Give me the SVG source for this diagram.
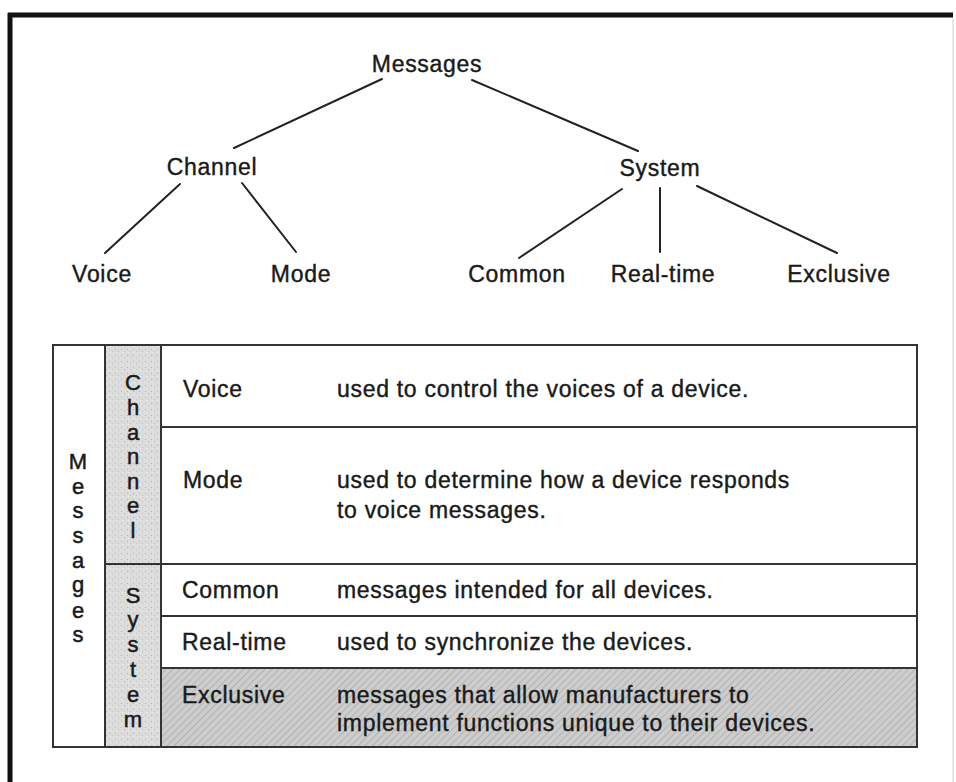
<svg xmlns="http://www.w3.org/2000/svg" width="956" height="782" viewBox="0 0 956 782">
<style>
  .t { font-family: "Liberation Sans", Arial, Helvetica, sans-serif; font-size: 23px; fill: #1a1a1a; stroke: #1a1a1a; stroke-width: 0.4px; letter-spacing: 0.7px; }
  .m { text-anchor: middle; }
  .v { font-family: "Liberation Sans", Arial, Helvetica, sans-serif; font-size: 22px; fill: #1a1a1a; stroke: #1a1a1a; stroke-width: 0.5px; text-anchor: middle; }
  .edge { stroke: #222; stroke-width: 2; fill: none; stroke-linecap: round; }
  .grid { stroke: #333; stroke-width: 2; fill: none; }
</style>
<defs>
  <pattern id="stip" width="6" height="6" patternUnits="userSpaceOnUse">
    <rect width="6" height="6" fill="#dcdcdc"/>
    <rect x="1" y="1" width="1" height="1" fill="#b5b5b5"/>
    <rect x="4" y="3" width="1" height="1" fill="#c0c0c0"/>
    <rect x="2" y="4" width="1" height="1" fill="#f0f0f0"/>
  </pattern>
  <pattern id="hatch" width="5" height="5" patternUnits="userSpaceOnUse" patternTransform="rotate(45)">
    <rect width="5" height="5" fill="#cdcdcd"/>
    <line x1="0" y1="0" x2="0" y2="5" stroke="#a9a9a9" stroke-width="1.5"/>
  </pattern>
</defs>
<rect width="956" height="782" fill="#ffffff"/>
<!-- outer frame -->
<g id="frame">
  <line x1="8" y1="15" x2="953" y2="15" stroke="#111" stroke-width="5"/>
  <line x1="10" y1="13" x2="10" y2="782" stroke="#111" stroke-width="5"/>
  <line x1="953" y1="18" x2="953" y2="782" stroke="#d0d0d0" stroke-width="1"/>
</g>
<!-- connectors -->
<g id="connectors">
  <line class="edge" x1="382" y1="79" x2="234" y2="148"/>
  <line class="edge" x1="472" y1="80" x2="638" y2="151"/>
  <line class="edge" x1="180" y1="184" x2="105" y2="253"/>
  <line class="edge" x1="242" y1="183" x2="296" y2="252"/>
  <line class="edge" x1="622" y1="189" x2="519" y2="258"/>
  <line class="edge" x1="660" y1="188" x2="660" y2="252"/>
  <line class="edge" x1="697" y1="186" x2="837" y2="253"/>
</g>
<!-- tree nodes -->
<g id="n-messages"><text class="t m" x="427" y="72">Messages</text></g>
<g id="n-channel"><text class="t m" x="212" y="175">Channel</text></g>
<g id="n-system"><text class="t m" x="660" y="176">System</text></g>
<g id="n-voice"><text class="t m" x="102" y="282">Voice</text></g>
<g id="n-mode"><text class="t m" x="301" y="282">Mode</text></g>
<g id="n-common"><text class="t m" x="517" y="282">Common</text></g>
<g id="n-realtime"><text class="t m" x="663" y="282">Real-time</text></g>
<g id="n-exclusive"><text class="t m" x="839" y="282">Exclusive</text></g>
<!-- table -->
<g id="table">
  <rect x="105" y="345" width="56" height="402" fill="url(#stip)"/>
  <rect x="161" y="668" width="756" height="79" fill="url(#hatch)"/>
  <rect class="grid" x="53" y="345" width="864" height="402"/>
  <line class="grid" x1="105" y1="345" x2="105" y2="747"/>
  <line class="grid" x1="161" y1="345" x2="161" y2="747"/>
  <line class="grid" x1="161" y1="427" x2="917" y2="427"/>
  <line class="grid" x1="105" y1="564" x2="917" y2="564"/>
  <line class="grid" x1="161" y1="616" x2="917" y2="616"/>
  <line class="grid" x1="161" y1="668" x2="917" y2="668"/>
  <g id="col-messages">
    <text class="v" x="78" y="469">M</text>
    <text class="v" x="78" y="494">e</text>
    <text class="v" x="78" y="518">s</text>
    <text class="v" x="78" y="543">s</text>
    <text class="v" x="78" y="568">a</text>
    <text class="v" x="78" y="592">g</text>
    <text class="v" x="78" y="618">e</text>
    <text class="v" x="78" y="642">s</text>
  </g>
  <g id="col-channel">
    <text class="v" x="133" y="390">C</text>
    <text class="v" x="133" y="415">h</text>
    <text class="v" x="133" y="440">a</text>
    <text class="v" x="133" y="464">n</text>
    <text class="v" x="133" y="489">n</text>
    <text class="v" x="133" y="513">e</text>
    <text class="v" x="133" y="538">l</text>
  </g>
  <g id="col-system">
    <text class="v" x="133" y="603">S</text>
    <text class="v" x="133" y="627">y</text>
    <text class="v" x="133" y="652">s</text>
    <text class="v" x="133" y="677">t</text>
    <text class="v" x="133" y="702">e</text>
    <text class="v" x="133" y="727">m</text>
  </g>
  <g id="row-voice">
    <text class="t" x="183" y="397">Voice</text>
    <text class="t" x="337" y="397">used to control the voices of a device.</text>
  </g>
  <g id="row-mode">
    <text class="t" x="183" y="488">Mode</text>
    <text class="t" x="337" y="488">used to determine how a device responds</text>
    <text class="t" x="337" y="518">to voice messages.</text>
  </g>
  <g id="row-common">
    <text class="t" x="182" y="598">Common</text>
    <text class="t" x="337" y="598">messages intended for all devices.</text>
  </g>
  <g id="row-realtime">
    <text class="t" x="182" y="650">Real-time</text>
    <text class="t" x="337" y="650">used to synchronize the devices.</text>
  </g>
  <g id="row-exclusive">
    <text class="t" x="182" y="703">Exclusive</text>
    <text class="t" x="337" y="703">messages that allow manufacturers to</text>
    <text class="t" x="337" y="731">implement functions unique to their devices.</text>
  </g>
</g>
</svg>
